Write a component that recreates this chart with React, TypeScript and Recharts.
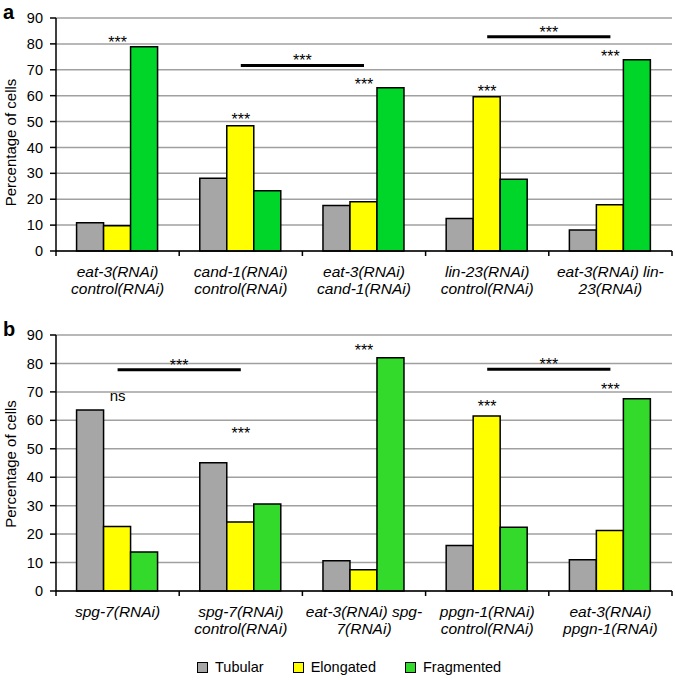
import { BarChart, Bar, XAxis, YAxis, CartesianGrid, ReferenceLine, ReferenceDot } from "recharts";

const FONT = '"Liberation Sans", Arial, sans-serif';
const GRAY = "#a6a6a6";
const YELLOW = "#ffff00";
const GREEN_A = "#00d62a";
const GREEN_B = "#33d92b";
const GRID = "#a0a0a0";
const PLOT_W = 616;

const Y_TICKS = [0, 10, 20, 30, 40, 50, 60, 70, 80, 90];

// panel a
const CATS_A = [
  "eat-3(RNAi)\ncontrol(RNAi)",
  "cand-1(RNAi)\ncontrol(RNAi)",
  "eat-3(RNAi)\ncand-1(RNAi)",
  "lin-23(RNAi)\ncontrol(RNAi)",
  "eat-3(RNAi) lin-\n23(RNAi)",
];
const TUBULAR_A = [10.9, 28.1, 17.6, 12.6, 8.1];
const ELONGATED_A = [9.8, 48.4, 19.0, 59.6, 17.9];
const FRAGMENTED_A = [78.9, 23.3, 63.1, 27.7, 73.9];
const MARKS_A = [
  { cat: 0, y: 80.7, text: "***" },
  { cat: 1, y: 50.9, text: "***" },
  { cat: 2, y: 64.4, text: "***" },
  { cat: 3, y: 61.6, text: "***" },
  { cat: 4, y: 75.1, text: "***" },
];
const BRACKETS_A = [
  { from: 1, to: 2, y: 71.7 },
  { from: 3, to: 4, y: 82.8 },
];

// panel b
const CATS_B = [
  "spg-7(RNAi)",
  "spg-7(RNAi)\ncontrol(RNAi)",
  "eat-3(RNAi) spg-\n7(RNAi)",
  "ppgn-1(RNAi)\ncontrol(RNAi)",
  "eat-3(RNAi)\nppgn-1(RNAi)",
];
const TUBULAR_B = [63.6, 45.1, 10.6, 16.0, 11.0];
const ELONGATED_B = [22.7, 24.3, 7.5, 61.5, 21.3];
const FRAGMENTED_B = [13.7, 30.6, 82.0, 22.4, 67.6];
const MARKS_B = [
  { cat: 0, y: 68.8, text: "ns" },
  { cat: 1, y: 55.5, text: "***" },
  { cat: 2, y: 84.6, text: "***" },
  { cat: 3, y: 65.1, text: "***" },
  { cat: 4, y: 71.0, text: "***" },
];
const BRACKETS_B = [
  { from: 0, to: 1, y: 77.8 },
  { from: 3, to: 4, y: 78.0 },
];

const SERIES = ["Tubular", "Elongated", "Fragmented"];

function CatTick(props: any) {
  const { x, y, payload, index, n } = props;
  const bw = PLOT_W / n;
  const lines = String(payload.value).split("\n");
  return (
    <g>
      <line x1={x - bw / 2} x2={x - bw / 2} y1={y} y2={y + 5} stroke="#000" strokeWidth={1.5} />
      {index === n - 1 && <line x1={x + bw / 2} x2={x + bw / 2} y1={y} y2={y + 5} stroke="#000" strokeWidth={1.5} />}
      <text x={x} y={y + 26} textAnchor="middle" fontStyle="italic" fill="#000" style={{ fontSize: 15.5, fontFamily: FONT }}>
        {lines.map((l, i) => (
          <tspan key={i} x={x} dy={i === 0 ? 0 : 17}>
            {l}
          </tspan>
        ))}
      </text>
    </g>
  );
}

function YTitle({ viewBox, shift }: any) {
  const cx = viewBox.x + 10;
  const cy = viewBox.y + viewBox.height / 2 + shift;
  return (
    <text
      x={cx}
      y={cy}
      transform={`rotate(-90, ${cx}, ${cy})`}
      textAnchor="middle"
      dominantBaseline="central"
      fill="#000"
      style={{ fontSize: 15, fontFamily: FONT }}
    >
      Percentage of cells
    </text>
  );
}

function Panel({ letter, top, height, cats, tubular, elongated, fragmented, green, marks, brackets, titleShift }: any) {
  const data = cats.map((c: string, i: number) => ({
    cat: c,
    tubular: tubular[i],
    elongated: elongated[i],
    fragmented: fragmented[i],
  }));
  return (
    <div style={{ position: "absolute", left: 0, top, width: 675, height }}>
      <BarChart
        width={675}
        height={height}
        data={data}
        margin={{ top: 18, right: 3, left: 0, bottom: 0 }}
        barCategoryGap="16.7%"
        barGap={0}
        style={{ fontFamily: FONT }}
      >
        <CartesianGrid vertical={false} stroke={GRID} strokeWidth={1.5} />
        <XAxis
          dataKey="cat"
          interval={0}
          height={49}
          tickLine={false}
          tickSize={0}
          tickMargin={0}
          axisLine={{ stroke: "#000", strokeWidth: 1.5 }}
          tick={(p: any) => <CatTick {...p} n={cats.length} />}
        />
        <YAxis
          domain={[0, 90]}
          ticks={Y_TICKS}
          width={56}
          tickSize={6}
          tickMargin={7}
          axisLine={{ stroke: "#000", strokeWidth: 1.5 }}
          tickLine={{ stroke: "#000", strokeWidth: 1.5 }}
          tick={{ fill: "#000", fontSize: 14.5 }}
          label={{ content: (p: any) => <YTitle viewBox={p.viewBox} shift={titleShift} /> }}
        />
        <Bar dataKey="tubular" fill={GRAY} stroke="#000" strokeWidth={1.5} isAnimationActive={false} />
        <Bar dataKey="elongated" fill={YELLOW} stroke="#000" strokeWidth={1.5} isAnimationActive={false} />
        <Bar dataKey="fragmented" fill={green} stroke="#000" strokeWidth={1.5} isAnimationActive={false} />
        {brackets.map((b: any, i: number) => (
          <ReferenceLine
            key={"b" + i}
            segment={[
              { x: cats[b.from], y: b.y },
              { x: cats[b.to], y: b.y },
            ]}
            stroke="#000"
            strokeWidth={3}
            ifOverflow="visible"
            label={{ value: "***", position: "top", offset: -1, fill: "#000", style: { fontSize: 16 } }}
          />
        ))}
        {marks.map((m: any, i: number) => (
          <ReferenceDot
            key={"m" + i}
            x={cats[m.cat]}
            y={m.y}
            r={0}
            fill="none"
            stroke="none"
            ifOverflow="visible"
            label={{ value: m.text, position: "center", fill: "#000", style: { fontSize: m.text === "ns" ? 15 : 16 } }}
          />
        ))}
      </BarChart>
      <div
        style={{
          position: "absolute",
          left: 3,
          top: 2,
          fontFamily: FONT,
          fontWeight: "bold",
          fontSize: 20,
          lineHeight: "20px",
        }}
      >
        {letter}
      </div>
    </div>
  );
}

export default function App() {
  const colors = [GRAY, YELLOW, GREEN_B];
  return (
    <div style={{ position: "absolute", left: 0, top: 0, width: 675, height: 680, background: "#fff" }}>
      <Panel
        letter="a"
        top={0}
        height={300}
        cats={CATS_A}
        tubular={TUBULAR_A}
        elongated={ELONGATED_A}
        fragmented={FRAGMENTED_A}
        green={GREEN_A}
        marks={MARKS_A}
        brackets={BRACKETS_A}
        titleShift={8}
      />
      <Panel
        letter="b"
        top={317}
        height={323}
        cats={CATS_B}
        tubular={TUBULAR_B}
        elongated={ELONGATED_B}
        fragmented={FRAGMENTED_B}
        green={GREEN_B}
        marks={MARKS_B}
        brackets={BRACKETS_B}
        titleShift={1}
      />
      <div
        style={{
          position: "absolute",
          left: 197,
          top: 659,
          display: "flex",
          alignItems: "center",
          gap: 29,
          fontFamily: FONT,
          fontSize: 14.5,
        }}
      >
        {SERIES.map((s, i) => (
          <div key={s} style={{ display: "flex", alignItems: "center", gap: 7 }}>
            <div style={{ width: 9, height: 9, border: "1.5px solid #000", background: colors[i] }} />
            <span>{s}</span>
          </div>
        ))}
      </div>
    </div>
  );
}
